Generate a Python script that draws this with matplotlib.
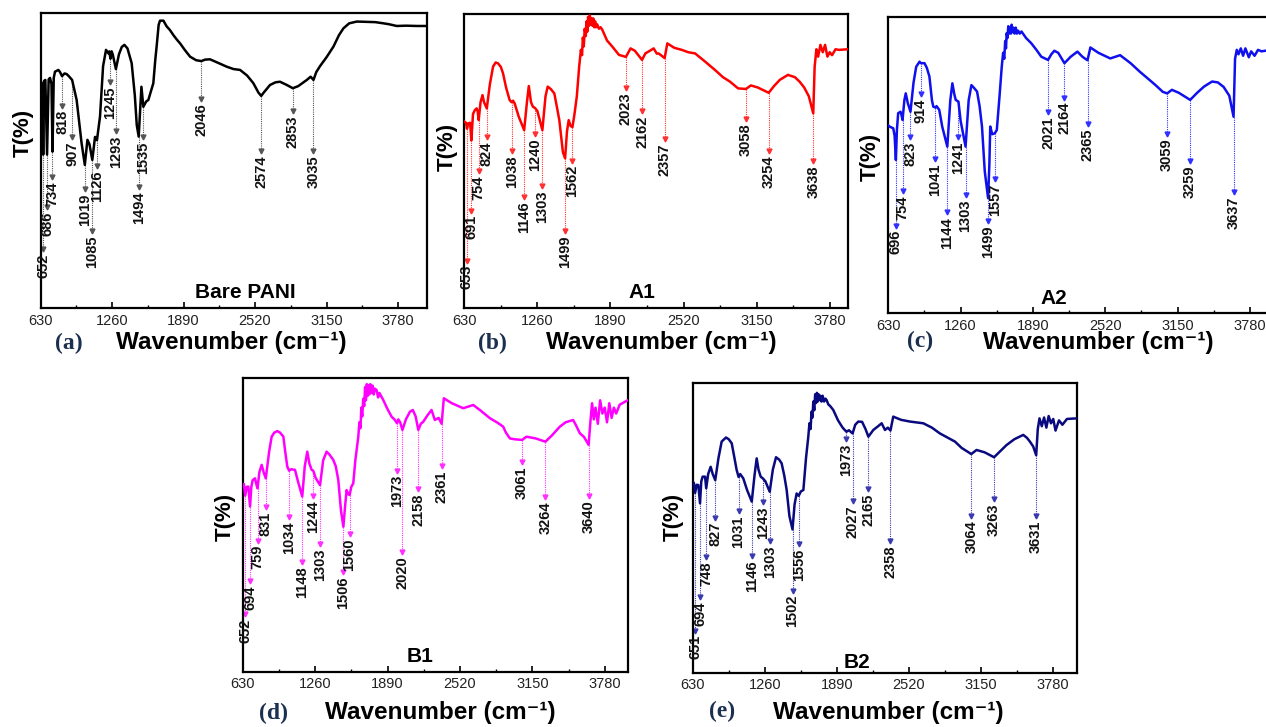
# ==========================================
# FTIR spectra of bare PANI and A1/A2/B1/B2
# five panels, peak positions marked with arrows
# ==========================================

import numpy as np
import matplotlib
matplotlib.use("Agg")
import matplotlib.pyplot as plt
from matplotlib.ticker import MultipleLocator

plt.rcParams["font.family"] = ["Liberation Sans", "DejaVu Sans"]

# -------------------------------
# Data: wavenumber (cm-1) and T(%)
# -------------------------------

pani_wn = [630, 645, 652, 660, 671, 686, 700, 712, 725, 734, 745, 756, 786, 800, 818,
           840, 859, 880, 907, 947, 990, 1019, 1042, 1060, 1085, 1109, 1126, 1153,
           1180, 1206, 1227, 1235, 1245, 1255, 1265, 1293, 1320, 1345, 1368, 1395,
           1432, 1460, 1477, 1494, 1518, 1535, 1560, 1579, 1623, 1640, 1653, 1670,
           1682, 1712, 1740, 1770, 1800, 1830, 1859, 1900, 1947, 2000, 2046, 2080,
           2123, 2200, 2270, 2330, 2388, 2450, 2505, 2550, 2574, 2600, 2652, 2700,
           2740, 2800, 2853, 2900, 2976, 3010, 3035, 3060, 3093, 3150, 3211, 3260,
           3299, 3350, 3417, 3500, 3580, 3652, 3700, 3769, 3850, 3950, 4034]
pani_t = [76.7, 76, 52, 77, 77.3, 52, 77.5, 78, 76, 53, 78, 80.1, 80.7, 80, 78.6,
          79.5, 79.3, 78.5, 77.3, 70.5, 56, 48.5, 57, 55.5, 50.2, 58, 56.9, 64.9,
          82, 87.5, 86.3, 87, 84.5, 87, 86, 81, 86, 88.5, 89.2, 88,
          83, 72, 62, 58.1, 75, 68.2, 70, 70.5, 76.2, 84, 89, 96,
          97.4, 97.4, 95.5, 94.2, 92.5, 91, 89.7, 87.5, 85.2, 84, 83.7, 84.2,
          84.3, 83, 81.8, 81, 80.7, 78.8, 76.2, 73, 71.9, 73.2, 75.6, 76.5,
          76.7, 75.6, 74.5, 75.2, 77.3, 78.4, 77.3, 80, 82, 85, 88.6, 92.5,
          94.8, 96.5, 97.1, 97, 96.9, 96.5, 96.2, 95.6, 95.7, 95.6, 95.6]
pani_peaks = [652, 686, 734, 818, 907, 1019, 1085, 1126, 1245, 1293, 1494, 1535,
              2046, 2574, 2853, 3035]
pani_tips = [19.1, 33.2, 43.4, 67.7, 56.9, 39.4, 25.3, 47.3, 75.6, 59.2, 40, 56.9,
             69.9, 52.4, 66, 52.4]

a1_wn = [630, 645, 653, 664, 680, 691, 705, 721, 736, 745, 754, 770, 787, 800, 824,
         850, 878, 900, 921, 945, 964, 990, 1021, 1038, 1050, 1064, 1100, 1146, 1170,
         1186, 1205, 1221, 1240, 1260, 1303, 1330, 1349, 1375, 1406, 1430, 1449,
         1480, 1499, 1515, 1530, 1545, 1562, 1580, 1600,
         1620, 1635, 1645, 1652, 1660, 1668, 1677, 1684, 1690, 1697, 1706, 1712,
         1720, 1728, 1735, 1742, 1750, 1758, 1765, 1775, 1790, 1805, 1820,
         1860, 1906, 1963, 2023, 2063, 2100, 2162, 2191, 2230, 2262, 2290, 2305,
         2357, 2380, 2440, 2505, 2560, 2619, 2700, 2790, 2860, 2920, 2990, 3058,
         3100, 3160, 3254, 3300, 3350, 3420, 3480, 3520, 3560, 3600, 3638, 3650,
         3665, 3680, 3700, 3720, 3740, 3760, 3780, 3800, 3830, 3860, 3935]
a1_t = [63.4, 63, 61, 62.8, 63, 57, 66, 67.3, 67.9, 67, 63.9, 70, 72.4, 70, 67.9,
        76, 82.1, 83.5, 83.2, 82, 79.8, 75, 70.7, 70, 70.5, 69.6, 65, 60.5, 70,
        75.5, 70, 68.5, 68, 67, 60.5, 72, 75.3, 74.5, 73, 68, 63.9,
        53, 50.9, 60, 63.9, 62, 61.5, 66, 72,
        82, 87.8, 86, 92, 89, 95, 92.5, 97.5, 94, 99, 96, 99.5,
        96.5, 98.5, 96, 98.5, 95.5, 97.5, 95.5, 96.5, 95, 95.5, 94.6,
        91, 88.9, 86.1, 85.4, 88.3, 87.5, 84.4, 86.6, 87.5, 88.3, 86.5, 86.6,
        85, 90, 88.5, 87.8, 87, 86.6, 84, 81, 78.5, 77, 74.7, 74.5,
        75.7, 75, 73.2, 75.5, 77.6, 79.3, 78.5, 77, 75, 72, 66.2, 82,
        88, 85.5, 89.5, 87, 89.5, 85.5, 87, 86, 88, 87.8, 88]
a1_peaks = [653, 691, 754, 824, 1038, 1146, 1240, 1303, 1499, 1562, 2023, 2162,
            2357, 3058, 3254, 3638]
a1_tips = [15.2, 32.2, 45.8, 57.1, 52.6, 36.7, 58.3, 40.7, 25.4, 49.2, 74.1, 66.2,
           56.6, 63.4, 52.6, 49.2]

a2_wn = [630, 640, 673, 685, 696, 705, 716, 736, 745, 754, 770, 782, 800, 823, 850,
         873, 902, 914, 945, 965, 988, 1010, 1022, 1041, 1050, 1074, 1100, 1144,
         1170, 1188, 1205, 1217, 1241, 1260, 1303, 1330, 1354, 1380, 1403, 1425,
         1446, 1470, 1499, 1510, 1518, 1535, 1557, 1575, 1600,
         1618, 1630, 1640, 1648, 1655, 1661, 1668, 1675, 1682, 1690, 1698, 1704,
         1712, 1720, 1730, 1740, 1750, 1760, 1775, 1790,
         1830, 1876, 1920, 1962, 2021, 2050, 2076, 2110, 2164, 2219, 2277, 2320,
         2345, 2365, 2390, 2460, 2563, 2649, 2740, 2821, 2900, 2960, 3021, 3059,
         3100, 3160, 3259, 3320, 3380, 3450, 3500, 3550, 3600, 3637, 3650, 3665,
         3680, 3700, 3720, 3740, 3770, 3790, 3820, 3850, 3880, 3930, 4085]
a2_t = [63.5, 63.1, 62.5, 60, 51.8, 62, 67.6, 68.1, 67, 65.3, 72, 74.3, 71, 68.1, 78,
        83.3, 85, 84.5, 84.5, 83, 80, 72, 69.8, 69.5, 70, 68.7, 63, 56.3,
        72, 77.7, 74, 72.1, 71.5, 65, 56.3, 72, 77.1, 76, 74.9, 70,
        63.1, 48, 38.9, 50, 63.1, 60.5, 60.8, 61.9, 74,
        83.3, 88, 86, 92, 89.5, 94.6, 93, 97, 94.5, 96.5, 94.5, 97.5,
        95, 96.5, 94.5, 96.5, 94.5, 95.5, 94.5, 95.2,
        93, 91.2, 89, 86.7, 85.6, 87.5, 88.7, 88, 84.5, 86.7, 88.4, 86.7,
        86, 85.5, 89.8, 88, 86.1, 87.2, 84.5, 81.6, 79, 77, 74.8, 74.3,
        75.5, 74.5, 72.1, 74.5, 76.6, 78.3, 78, 76.5, 73.5, 66.4, 86, 89,
        87.5, 89.5, 87, 89.5, 86.5, 88.5, 87, 89, 88.5, 88.8, 88.5]
a2_peaks = [696, 754, 823, 914, 1041, 1144, 1241, 1303, 1499, 1557, 2021, 2164,
            2365, 3059, 3259, 3637]
a2_tips = [28.7, 40.5, 58.6, 73.2, 51.2, 33.2, 58.6, 38.9, 30.4, 44.5, 67, 72,
           63.1, 59.7, 50.7, 40]

b1_wn = [630, 640, 652, 665, 679, 694, 705, 717, 737, 748, 759, 775, 795, 812, 831,
         860, 882, 905, 931, 955, 984, 1000, 1018, 1034, 1050, 1085, 1110, 1148,
         1170, 1192, 1210, 1230, 1244, 1265, 1303, 1330, 1360, 1385, 1418, 1440,
         1462, 1485, 1506, 1520, 1534, 1548, 1560, 1575, 1592, 1610,
         1636, 1645, 1655, 1662, 1670, 1679, 1687, 1695, 1702, 1710, 1717, 1723,
         1732, 1740, 1750, 1760, 1770, 1780, 1795, 1808, 1820,
         1853, 1890, 1926, 1950, 1973, 1984, 2000, 2020, 2050, 2085, 2110, 2135,
         2158, 2180, 2201, 2240, 2273, 2302, 2335, 2361, 2380, 2450, 2549, 2636,
         2700, 2781, 2850, 2897, 2920, 2955, 3000, 3061, 3099, 3180, 3264, 3320,
         3389, 3440, 3505, 3530, 3563, 3600, 3640, 3655, 3670, 3685, 3700, 3720,
         3740, 3760, 3780, 3800, 3820, 3840, 3860, 3880, 3910, 3980]
b1_t = [63.6, 64, 60, 63, 63.1, 56.3, 63, 65.3, 65.9, 64, 62.5, 68, 70.5, 68, 65.9,
        75, 80.1, 81.5, 82, 81.5, 80.1, 75, 69.9, 68.5, 69, 68.8, 65, 59.7,
        70, 75, 71, 68.8, 68.5, 66, 63.6, 72, 75, 74, 72.2, 70,
        65.3, 55, 49.4, 56, 61.9, 60.5, 60.2, 63, 64.2, 72,
        80.1, 85, 83, 90, 87, 93, 90.5, 97, 92.5, 98, 94, 97.7,
        94.5, 98, 95, 97.5, 94.5, 96.5, 96, 93.5, 95,
        92.6, 89.5, 86.9, 86, 84.7, 86, 85, 82.4, 86, 88.6, 89.2, 87,
        82.4, 84.5, 85.2, 87.5, 89.2, 85.8, 86.5, 84.5, 93.2, 91.5, 89.8, 90.9,
        89, 86.4, 84.8, 83.5, 81.5, 79.5, 79.2, 79, 80.1, 79.5, 78.4, 80.5,
        83.5, 85, 85.8, 84, 81.3, 80, 77.3, 85, 91.5, 86, 90, 84.5,
        92.5, 88, 90, 85, 91.5, 86.5, 90, 88, 91, 92.5]
b1_peaks = [652, 694, 759, 831, 1034, 1148, 1244, 1303, 1506, 1560, 1973, 2020,
            2158, 2361, 3061, 3264, 3640]
b1_tips = [18.8, 30.1, 43.8, 55.1, 51.7, 36.4, 59.1, 42.6, 33, 46, 67.6, 39.8,
           61.4, 69.3, 70.5, 58.5, 59.1]

b2_wn = [630, 640, 651, 665, 679, 694, 705, 717, 738, 748, 765, 787, 805, 827, 855,
         883, 921, 945, 971, 995, 1014, 1031, 1045, 1072, 1105, 1146, 1170, 1189,
         1205, 1224, 1243, 1265, 1303, 1330, 1358, 1385, 1407, 1430, 1451, 1475,
         1502, 1520, 1538, 1556, 1575, 1597, 1620,
         1640, 1650, 1660, 1668, 1676, 1684, 1692, 1700, 1708, 1715, 1722, 1730,
         1738, 1745, 1755, 1765, 1778, 1790, 1800, 1815, 1830,
         1858, 1900, 1940, 1973, 1995, 2027, 2050, 2077, 2110, 2140, 2165, 2208,
         2250, 2281, 2310, 2335, 2358, 2382, 2450, 2528, 2645, 2720, 2790, 2860,
         2921, 2980, 3064, 3110, 3180, 3263, 3320, 3372, 3440, 3518, 3550, 3576,
         3605, 3631, 3645, 3660, 3680, 3700, 3720, 3740, 3760, 3780, 3800, 3830,
         3860, 3900, 3985]
b2_t = [65.3, 65.5, 62, 64.8, 64.7, 58.4, 66, 67.6, 67.6, 63.6, 68.5, 71, 68.5, 66.4, 74,
        79.7, 81.1, 80.5, 79.1, 74, 69.9, 67.5, 68.5, 67, 63, 59, 68, 73.9,
        70, 67.6, 67, 66, 62.4, 70, 74.3, 73.5, 72.2, 68, 63, 54,
        49.4, 58, 61.8, 61, 62.5, 63, 74,
        81.4, 86, 84, 90, 88, 93.5, 90.5, 96, 93, 96.5, 93.5, 96,
        94, 95.5, 93.5, 95.5, 93.5, 94.5, 94, 92.5, 92,
        90.6, 87, 84.5, 83.1, 83.6, 82.5, 85.5, 86.6, 86.5, 84, 81.4, 83.7,
        85, 86, 83.7, 84.5, 83.5, 88.3, 87.2, 86.6, 86, 84.5, 82.5, 81,
        79.7, 77.5, 75.4, 76.8, 76, 74.3, 76.5, 78.5, 80.5, 82, 81, 79.7,
        78, 75, 84, 87.7, 85, 88, 84.5, 88.5, 86, 87.5, 83.5, 87,
        85.5, 87.5, 87.7]
b2_peaks = [651, 694, 748, 827, 1031, 1146, 1243, 1303, 1502, 1556, 1973, 2027,
            2165, 2358, 3064, 3263, 3631]
b2_tips = [13.6, 25.1, 38.9, 52.6, 54.9, 39.4, 57.8, 44.6, 27.4, 43.4, 79.7, 58.4,
           62.4, 44.6, 53.2, 59, 53.2]

# -------------------------------
# Layout (pixel boxes of the original figure)
# -------------------------------

W, H = 1266, 727


def box(left, top, right, bottom):
    return [left / W, 1 - bottom / H, (right - left) / W, (bottom - top) / H]


def at(x, y):
    return x / W, 1 - y / H


panels = [
    dict(wn=pani_wn, t=pani_t, peaks=pani_peaks, tips=pani_tips, color="black",
         acolor="#555555", xmax=4036, rect=box(40.7, 13, 427, 308),
         name="Bare PANI", name_xy=(245, 293), letter="(a)", letter_xy=(69, 343),
         xlab_xy=(231, 343), ylab_xy=(23, 133)),
    dict(wn=a1_wn, t=a1_t, peaks=a1_peaks, tips=a1_tips, color="#ff0000",
         acolor="#ff3030", xmax=3935, rect=box(464.3, 14, 847.7, 308),
         name="A1", name_xy=(642, 292), letter="(b)", letter_xy=(492, 343),
         xlab_xy=(661, 343), ylab_xy=(447, 147)),
    dict(wn=a2_wn, t=a2_t, peaks=a2_peaks, tips=a2_tips, color="#1010ee",
         acolor="#3030ff", xmax=4085, rect=box(888.3, 17.3, 1285, 313.3),
         name="A2", name_xy=(1054, 298), letter="(c)", letter_xy=(920, 341),
         xlab_xy=(1098, 342), ylab_xy=(870, 157)),
    dict(wn=b1_wn, t=b1_t, peaks=b1_peaks, tips=b1_tips, color="#ff00ff",
         acolor="#ff30ff", xmax=3980, rect=box(242.7, 378.3, 627.7, 671.7),
         name="B1", name_xy=(420, 656), letter="(d)", letter_xy=(273, 713),
         xlab_xy=(440, 713), ylab_xy=(225, 517)),
    dict(wn=b2_wn, t=b2_t, peaks=b2_peaks, tips=b2_tips, color="#0a0a80",
         acolor="#3a3ab0", xmax=3985, rect=box(692.7, 382.7, 1076.7, 672.7),
         name="B2", name_xy=(857, 662), letter="(e)", letter_xy=(722, 711),
         xlab_xy=(888, 712), ylab_xy=(673, 517)),
]

# -------------------------------
# Drawing
# -------------------------------

fig = plt.figure(figsize=(W / 100, H / 100), dpi=100)


def draw_panel(p):
    ax = fig.add_axes(p["rect"])
    ax.plot(p["wn"], p["t"], color=p["color"], lw=1.8, zorder=3)

    for peak, tip in zip(p["peaks"], p["tips"]):
        start = np.interp(peak, p["wn"], p["t"])
        ax.plot([peak, peak], [start, tip + 1.2], ls=(0, (1, 1)), lw=0.8,
                color=p["acolor"], zorder=2)
        ax.plot(peak, tip + 0.9, marker="v", ms=3.5, color=p["acolor"],
                mec=p["acolor"], zorder=2)
        ax.text(peak, tip - 0.6, str(peak), rotation=90, ha="center", va="top",
                fontsize=10.5, fontweight="bold", color="#111111")

    ax.set_xlim(630, p["xmax"])
    ax.set_ylim(0, 100)
    ax.xaxis.set_major_locator(MultipleLocator(630))
    ax.xaxis.set_minor_locator(MultipleLocator(315))
    ax.tick_params(axis="x", which="major", direction="in", length=4, width=1.2,
                   labelsize=10.5, pad=4, labelcolor="#222222")
    ax.tick_params(axis="x", which="minor", direction="in", length=2.5, width=1)
    ax.set_yticks([])
    for s in ax.spines.values():
        s.set_linewidth(1.6)

    fig.text(*at(*p["name_xy"]), p["name"], ha="center", va="center",
             fontsize=15, fontweight="bold")
    fig.text(*at(*p["letter_xy"]), p["letter"], ha="center", va="center",
             fontsize=17, fontweight="bold", family="Liberation Serif",
             color="#1b2f4f")
    fig.text(*at(*p["xlab_xy"]), "Wavenumber (cm\u207b\u00b9)", ha="center",
             va="center", fontsize=17.5, fontweight="bold")
    fig.text(*at(*p["ylab_xy"]), "T(%)", ha="center", va="center", rotation=90,
             fontsize=16, fontweight="bold")


for p in panels:
    draw_panel(p)

fig.savefig("out.png", dpi=100)
